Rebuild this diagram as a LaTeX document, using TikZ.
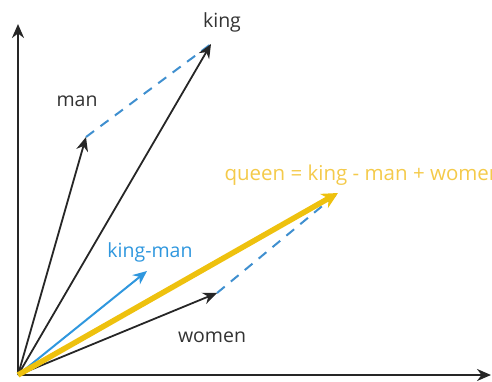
\documentclass[tikz,border=0pt]{standalone}
\usepackage{fontspec}
\setmainfont{Open Sans}
\usetikzlibrary{arrows.meta}
\definecolor{cGLD}{HTML}{EEC10E}
\definecolor{cGLT}{HTML}{F4CA4A}
\definecolor{cBLU}{HTML}{2F97DE}
\definecolor{cDSH}{HTML}{3F8FCF}
\definecolor{cTXT}{HTML}{333333}

\begin{document}
\begin{tikzpicture}[x=1pt, y=-1pt, font=\fontsize{19.5}{22}\selectfont, >={Stealth[length=14pt,width=12pt]}]
\useasboundingbox (0,0) rectangle (492,382);
\clip (0,0) rectangle (492,382);
% points
\coordinate (O) at (18,375);
\coordinate (yT) at (18,24);
\coordinate (xT) at (491,375);
\coordinate (manT) at (86,137);
\coordinate (kingT) at (211,44);
\coordinate (kmT) at (147,271);
\coordinate (womT) at (217,293);
\coordinate (qT) at (338,193);
% axes
\draw[->, line width=2.6pt, black!85] (O) -- (yT);
\draw[->, line width=2.6pt, black!85] (O) -- (xT);
% dashed offsets
\draw[cDSH, line width=2pt, dash pattern=on 10pt off 8pt] (manT) -- (kingT);
\draw[cDSH, line width=2pt, dash pattern=on 10pt off 8pt] (womT) -- (qT);
% vectors
\draw[->, line width=1.8pt, black!85] (O) -- (manT);
\draw[->, line width=1.8pt, black!85] (O) -- (kingT);
\draw[->, line width=1.8pt, black!85] (O) -- (womT);
\draw[->, line width=2pt, cBLU] (O) -- (kmT);
\draw[-{Stealth[length=16pt,width=16pt]}, line width=5.5pt, cGLD] (O) -- (qT);
% labels
\node[cTXT] (kingL) at (222,22) {king};
\node[cTXT] (manL) at (77,101) {man};
\node[cBLU] (kmL) at (150,252) {king-man};
\node[cTXT] (womL) at (212,337) {women};
\node[cGLT, anchor=west, font=\fontsize{20.5}{23}\selectfont] (qL) at (221,175) {queen = king - man + women};
\end{tikzpicture}
\end{document}
